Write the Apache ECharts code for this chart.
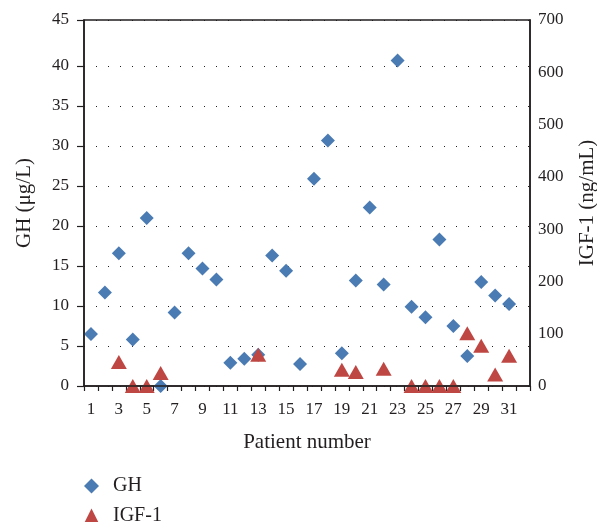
<!DOCTYPE html>
<html>
<head>
<meta charset="utf-8">
<script src="https://cdn.jsdelivr.net/npm/echarts@6/dist/echarts.min.js"></script>
<style>
html,body{margin:0;padding:0;background:#fff;}
#chart{width:597px;height:522px;}
</style>
</head>
<body>
<div id="chart"></div>
<script>
// Patient numbers (category axis has one extra trailing slot, as in the reference)
var categories = ['1','2','3','4','5','6','7','8','9','10','11','12','13','14','15','16',
  '17','18','19','20','21','22','23','24','25','26','27','28','29','30','31','32'];
// GH (µg/L), left axis
var ghValues = [6.5, 11.7, 16.6, 5.8, 21.0, 0, 9.2, 16.6, 14.7, 13.3, 2.9, 3.4, 3.9, 16.3, 14.4,
  2.75, 25.9, 30.7, 4.1, 13.2, 22.3, 12.7, 40.7, 9.9, 8.6, 18.3, 7.5, 3.75, 13.0, 11.3, 10.25];
// IGF-1 (ng/mL), right axis (null = not shown)
var igfValues = [null, null, 46, 0, 0, 25, null, null, null, null, null, null, 60, null, null,
  null, null, null, 31, 27, null, 33, null, 0, 0, 0, 0, 101, 77, 22, 58];
// Tick labels
var leftTickValues = [0, 5, 10, 15, 20, 25, 30, 35, 40, 45.75];
var leftTickLabels = ['0', '5', '10', '15', '20', '25', '30', '35', '40', '45'];

var FONT = '"Liberation Serif", "DejaVu Serif", serif';
var INK = '#231f20';

var chart = echarts.init(document.getElementById('chart'), null, {renderer: 'canvas'});
chart.setOption({
  animation: false,
  backgroundColor: '#ffffff',
  textStyle: {fontFamily: FONT, color: INK},
  grid: {left: 84, right: 67, top: 20, bottom: 136, show: true, borderColor: INK, borderWidth: 1.5,
    backgroundColor: 'transparent', outerBoundsMode: 'none', containLabel: false, z: 3},
  legend: {
    orient: 'vertical', left: 84, top: 476, height: 60, padding: 0, itemGap: 10, itemWidth: 15, itemHeight: 15,
    textStyle: {fontFamily: FONT, fontSize: 20, color: INK, padding: [0, 0, 0, 9]},
    data: [{name: 'GH', icon: 'diamond'}, {name: 'IGF-1', icon: 'triangle'}]
  },
  xAxis: {
    type: 'category', data: categories, boundaryGap: true,
    name: 'Patient number', nameLocation: 'middle', nameGap: 46,
    nameTextStyle: {fontFamily: FONT, fontSize: 21, color: INK},
    axisLine: {lineStyle: {color: INK, width: 1.5}},
    axisTick: {show: true, interval: 0, length: 5, lineStyle: {color: INK, width: 1.2}},
    axisLabel: {interval: 1, margin: 15, fontFamily: FONT, fontSize: 17, color: INK},
    splitLine: {show: false}
  },
  yAxis: [
    {
      type: 'value', min: 0, max: 45.75, position: 'left',
      name: 'GH (\u03BCg/L)', nameLocation: 'middle', nameGap: 49,
      nameTextStyle: {fontFamily: FONT, fontSize: 21, color: INK},
      axisLine: {show: true, lineStyle: {color: INK, width: 1.5}},
      axisTick: {show: true, length: 7, customValues: leftTickValues, lineStyle: {color: INK, width: 1.2}},
      axisLabel: {margin: 15, fontFamily: FONT, fontSize: 17, color: INK, customValues: leftTickValues,
        formatter: function (v) { var i = leftTickValues.indexOf(v); return i >= 0 ? leftTickLabels[i] : ''; }},
      splitLine: {show: true, lineStyle: {color: INK, width: 1, type: [1, 11]}}
    },
    {
      type: 'value', min: 0, max: 700, interval: 100, position: 'right',
      name: 'IGF-1 (ng/mL)', nameLocation: 'middle', nameGap: 47,
      nameTextStyle: {fontFamily: FONT, fontSize: 21, color: INK},
      axisLine: {show: true, lineStyle: {color: INK, width: 1.5}},
      axisTick: {show: false},
      axisLabel: {margin: 8, fontFamily: FONT, fontSize: 17, color: INK},
      splitLine: {show: false}
    }
  ],
  series: [
    {
      name: 'GH', type: 'scatter', yAxisIndex: 0, symbol: 'diamond', symbolSize: 14,
      itemStyle: {color: '#4a7bb3', opacity: 1}, data: ghValues, clip: false
    },
    {
      name: 'IGF-1', type: 'scatter', yAxisIndex: 1, symbol: 'triangle', symbolSize: [16, 14],
      itemStyle: {color: '#bf4743', opacity: 1}, data: igfValues, clip: false
    }
  ]
});
</script>
</body>
</html>
